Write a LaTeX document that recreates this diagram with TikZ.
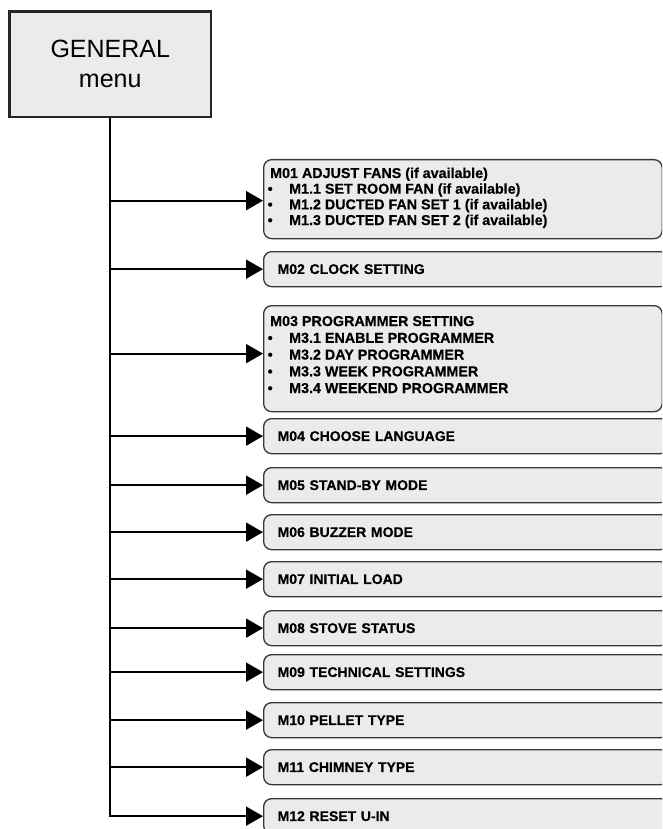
\documentclass[tikz,border=0pt]{standalone}
\usepackage{fontspec}
\setmainfont{Liberation Sans}
\newfontfamily\menubold{Liberation Sans Bold}[FakeBold=0.4]
\usetikzlibrary{arrows.meta}
\definecolor{boxfill}{HTML}{EBEBEB}
\definecolor{boxline}{HTML}{383838}
\definecolor{genline}{HTML}{262626}
\begin{document}
\begin{tikzpicture}[x=1pt,y=-1pt,
  menubox/.style={draw=boxline, fill=boxfill, line width=1.3pt, rounded corners=8pt,
    anchor=north west, inner sep=0pt},
  single/.style={menubox, minimum width=405pt, minimum height=35pt, text width=377pt,
    align=left, inner xsep=14pt, font=\menubold\fontsize{14}{16}\selectfont},
  multi/.style={menubox, minimum width=398.5pt},
  listtext/.style={anchor=base west, inner sep=0pt, font=\menubold},
  arr/.style={line width=2pt, -{Triangle[length=17pt,width=19pt]}},
]
\useasboundingbox (0,0) rectangle (662,829);
\clip (0,0) rectangle (662,829);

% root of the menu tree
\node[draw=genline, fill=boxfill, line width=2.5pt, minimum width=201.5pt,
  minimum height=105.5pt, anchor=north west, align=center, inner sep=0pt,
  font=\fontsize{25}{30}\selectfont] (gen) at (8.25,10.25) {GENERAL\\menu};

% menu entries
\node[multi, minimum height=79pt] (m01) at (263,159) {};
\node[listtext] (m01t) at (270,178) {\parbox[t]{385pt}{\fontsize{14.3}{15.67}\selectfont
  M01 ADJUST FANS (if available)\\
  \makebox[0pt]{\textbullet}\hspace{19pt}M1.1 SET ROOM FAN (if available)\\
  \makebox[0pt]{\textbullet}\hspace{19pt}M1.2 DUCTED FAN SET 1 (if available)\\
  \makebox[0pt]{\textbullet}\hspace{19pt}M1.3 DUCTED FAN SET 2 (if available)}};

\node[single] (m02) at (263,251) {M02 CLOCK SETTING};

\node[multi, minimum height=106pt] (m03) at (263,305) {};
\node[listtext] (m03t) at (270,326) {\parbox[t]{385pt}{\fontsize{14.3}{16.75}\selectfont
  M03 PROGRAMMER SETTING\\
  \makebox[0pt]{\textbullet}\hspace{19pt}M3.1 ENABLE PROGRAMMER\\
  \makebox[0pt]{\textbullet}\hspace{19pt}M3.2 DAY PROGRAMMER\\
  \makebox[0pt]{\textbullet}\hspace{19pt}M3.3 WEEK PROGRAMMER\\
  \makebox[0pt]{\textbullet}\hspace{19pt}M3.4 WEEKEND PROGRAMMER}};

\node[single] (m04) at (263,418) {M04 CHOOSE LANGUAGE};
\node[single] (m05) at (263,467) {M05 STAND-BY MODE};
\node[single] (m06) at (263,514) {M06 BUZZER MODE};
\node[single] (m07) at (263,561) {M07 INITIAL LOAD};
\node[single] (m08) at (263,610) {M08 STOVE STATUS};
\node[single] (m09) at (263,654) {M09 TECHNICAL SETTINGS};
\node[single] (m10) at (263,702) {M10 PELLET TYPE};
\node[single] (m11) at (263,749) {M11 CHIMNEY TYPE};
\node[single] (m12) at (263,798) {M12 RESET U-IN};

% arrow targets on the two list boxes
\coordinate (m01in) at ([yshift=-1.5pt]m01.west);
\coordinate (m03in) at ([yshift=5pt]m03.west);

% trunk and branches
\draw[arr] (gen.south) |- (m12.west);
\draw[arr] (gen.south |- m01in) -- (m01in);
\draw[arr] (gen.south |- m02.west) -- (m02.west);
\draw[arr] (gen.south |- m03in) -- (m03in);
\foreach \m in {m04,m05,m06,m07,m08,m09,m10,m11}
  \draw[arr] (gen.south |- \m.west) -- (\m.west);
\end{tikzpicture}
\end{document}
